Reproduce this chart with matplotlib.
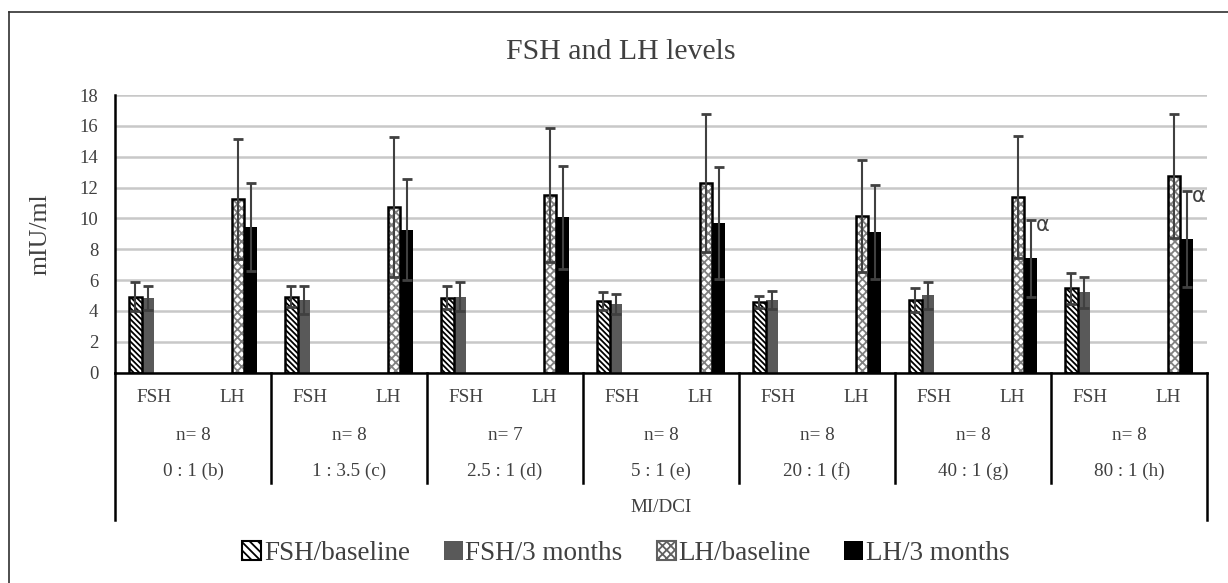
import matplotlib
matplotlib.use("Agg")
import matplotlib.pyplot as plt
import matplotlib.transforms as mtransforms
from matplotlib.patches import Patch
from matplotlib.lines import Line2D
import numpy as np

plt.rcParams['font.family'] = ['Liberation Serif', 'DejaVu Serif']
plt.rcParams['hatch.linewidth'] = 1.3

# ---------------- data ----------------
groups = ["0 : 1 (b)", "1 : 3.5 (c)", "2.5 : 1 (d)", "5 : 1 (e)", "20 : 1 (f)", "40 : 1 (g)", "80 : 1 (h)"]
n_labels = ["n= 8", "n= 8", "n= 7", "n= 8", "n= 8", "n= 8", "n= 8"]
sub_labels = ["FSH", "LH"]

fsh_base = [4.93, 4.93, 4.86, 4.63, 4.58, 4.71, 5.47]
fsh_base_err = [0.93, 0.67, 0.74, 0.58, 0.39, 0.80, 1.01]
fsh_3m = [4.82, 4.71, 4.93, 4.45, 4.71, 5.01, 5.21]
fsh_3m_err = [0.78, 0.89, 0.93, 0.63, 0.56, 0.89, 1.01]
lh_base = [11.26, 10.74, 11.52, 12.31, 10.16, 11.39, 12.77]
lh_base_err = [3.86, 4.51, 4.32, 4.48, 3.62, 3.93, 4.02]
lh_3m = [9.44, 9.27, 10.07, 9.70, 9.12, 7.41, 8.69]
lh_3m_err = [2.86, 3.26, 3.35, 3.65, 3.02, 2.49, 3.11]
alpha_groups = [5, 6]  # groups marked with α (LH/3 months)

series_names = ["FSH/baseline", "FSH/3 months", "LH/baseline", "LH/3 months"]

TXT = '#404040'
ERR = '#404040'
GRID = '#c8c8c8'
DIAG = '\\' * 6

fig = plt.figure(figsize=(12.28, 5.83), dpi=100)
W, H = 1228, 583
ax = fig.add_axes([115 / W, 1 - 372.7 / H, (1207 - 115) / W, (372.7 - 95) / H])

ng = len(groups)
gidx = np.arange(ng)
bw = 0.16
fsh_pos = 2 * gidx
lh_pos = 2 * gidx + 1

ekw = dict(ecolor=ERR, elinewidth=1.5, capsize=3.6, capthick=2, fmt='none', zorder=5)

# FSH baseline: white with diagonal hatch, black edge
ax.bar(fsh_pos - 1.5 * bw, fsh_base, bw, color='white', edgecolor='black',
       hatch=DIAG, linewidth=0, zorder=3)
ax.bar(fsh_pos - 1.5 * bw, fsh_base, bw, color='none', edgecolor='black',
       linewidth=1.8, zorder=4)
ax.errorbar(fsh_pos - 1.5 * bw, fsh_base, yerr=fsh_base_err, **ekw)

# FSH 3 months: dark gray
ax.bar(fsh_pos - 0.5 * bw, fsh_3m, bw, color='#595959', linewidth=0, zorder=3)
ax.errorbar(fsh_pos - 0.5 * bw, fsh_3m, yerr=fsh_3m_err, **ekw)

# LH baseline: fine gray checker, black edge
ax.bar(lh_pos + 0.5 * bw, lh_base, bw, color='white', edgecolor='#808080',
       hatch='xxxx', linewidth=0, zorder=3)
ax.bar(lh_pos + 0.5 * bw, lh_base, bw, color='none', edgecolor='black',
       linewidth=1.8, zorder=4)
ax.errorbar(lh_pos + 0.5 * bw, lh_base, yerr=lh_base_err, **ekw)

# LH 3 months: black
ax.bar(lh_pos + 1.5 * bw, lh_3m, bw, color='black', linewidth=0, zorder=3)
ax.errorbar(lh_pos + 1.5 * bw, lh_3m, yerr=lh_3m_err, **ekw)

for g in alpha_groups:
    ax.text(lh_pos[g] + 1.5 * bw + 0.06, lh_3m[g] + lh_3m_err[g] - 0.35, 'α',
            fontsize=15, color=TXT, ha='left', va='center', zorder=6,
            family=['DejaVu Sans'])

ax.set_xlim(-0.5, 2 * ng - 0.5)
ax.set_ylim(0, 18)
ax.set_yticks(np.arange(0, 19, 2))
ax.tick_params(axis='y', length=0, labelsize=13.5, labelcolor=TXT, pad=12)
ax.yaxis.grid(True, color=GRID, linewidth=1.8, zorder=0)
ax.set_axisbelow(True)
for s in ['top', 'right']:
    ax.spines[s].set_visible(False)
ax.spines['left'].set_linewidth(1.8)
ax.spines['bottom'].set_linewidth(1.8)
ax.spines['left'].set_zorder(6)
ax.spines['bottom'].set_zorder(6)
ax.set_ylabel('mIU/ml', fontsize=18.5, color=TXT, labelpad=20)

# multi-level category axis
ax.set_xticks([])
trans = mtransforms.blended_transform_factory(ax.transData, fig.transFigure)
def fy(px):
    return 1 - px / H
CAT_FS = 13.8
for i in range(2 * ng):
    ax.text(i, fy(398), sub_labels[i % 2], transform=trans, ha='center', va='center',
            fontsize=CAT_FS, color=TXT)
for g in range(ng):
    cx = 2 * g + 0.5
    ax.text(cx, fy(436), n_labels[g], transform=trans, ha='center', va='center',
            fontsize=CAT_FS, color=TXT)
    ax.text(cx, fy(471), groups[g], transform=trans, ha='center', va='center',
            fontsize=CAT_FS, color=TXT)
ax.text(ng - 0.5, fy(508), 'MI/DCI', transform=trans, ha='center', va='center',
        fontsize=CAT_FS, color=TXT)
for g in range(ng + 1):
    xb = 2 * g - 0.5
    yend = 520 if g in (0, ng) else 483
    ax.add_line(Line2D([xb, xb], [fy(372.7), fy(yend)], transform=trans,
                       color='black', linewidth=1.8, clip_on=False))

fig.text(621 / W, fy(52), 'FSH and LH levels', ha='center', va='center',
         fontsize=21.5, color=TXT)

handles = [
    Patch(facecolor='white', edgecolor='black', hatch='\\' * 4, linewidth=1.5),
    Patch(facecolor='#595959', edgecolor='#595959', linewidth=0),
    Patch(facecolor='white', edgecolor='#606060', hatch='xxxx', linewidth=1.5),
    Patch(facecolor='black', edgecolor='black', linewidth=0),
]
leg = fig.legend(handles, series_names, loc='center', bbox_to_anchor=(626 / W, fy(553)),
                 ncol=4, frameon=False, fontsize=19.5, handlelength=0.7, handleheight=0.7,
                 handletextpad=0.1, columnspacing=1.25, labelcolor=TXT)

# figure frame (left and top only)
fig.add_artist(Line2D([9 / W, 9 / W], [0, fy(12)], transform=fig.transFigure,
                      color='#303030', linewidth=1.2))
fig.add_artist(Line2D([9 / W, 1], [fy(12), fy(12)], transform=fig.transFigure,
                      color='#303030', linewidth=1.2))

fig.savefig('out.png', dpi=100)
